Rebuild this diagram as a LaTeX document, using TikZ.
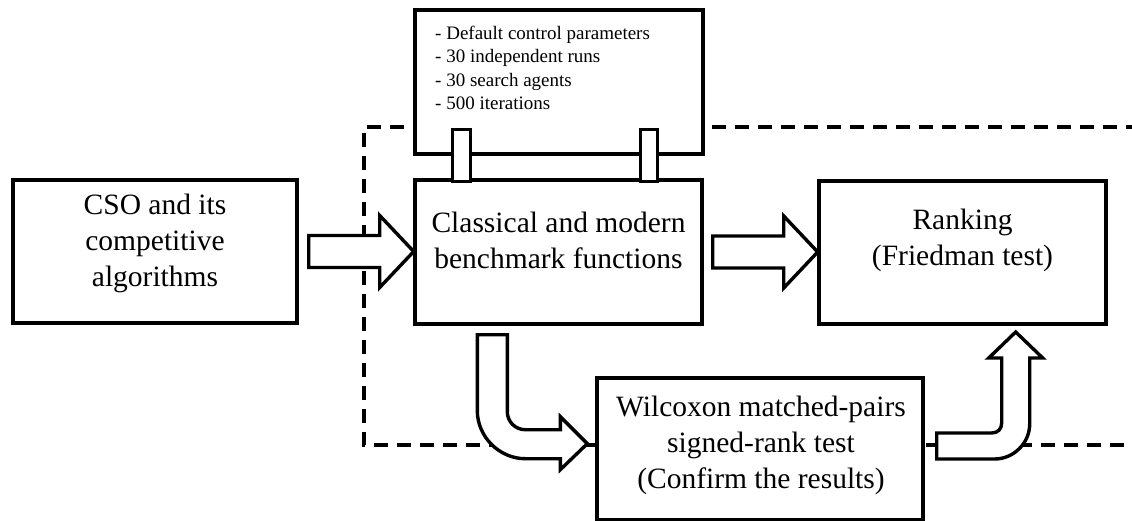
\documentclass[tikz,border=0pt]{standalone}
\usepackage{fontspec}
\setmainfont{Liberation Serif}
\tikzset{
  box/.style={draw, line width=3.4pt, fill=white, inner sep=0pt},
  boxtext/.style={align=center, inner sep=0pt, font=\fontsize{29.5}{36}\selectfont},
  fatline/.style={draw, line width=3.4pt, fill=white, line join=miter},
  frame/.style={line width=3.2pt, dash pattern=on 14pt off 9pt},
  fat arrow/.pic={\draw[fatline] (0,-16) -- (71,-16) -- (71,-36) -- (105,0) -- (71,36) -- (71,16) -- (0,16) -- cycle;}
}

\begin{document}
\begin{tikzpicture}[x=1pt,y=-1pt]
	\useasboundingbox (0,0) rectangle (1132,521);
	
	% dashed frame
	\draw[frame] (1140,127) -- (364,127) -- (364,445) -- (1140,445);
	
	% Boxes
	\node[box, minimum width=284pt, minimum height=143pt] (cso) at (155,251.5) {};
	\node[box, minimum width=287pt, minimum height=144pt] (bench) at (558.5,252) {};
	\node[box, minimum width=287pt, minimum height=143pt] (rank) at (962.5,252.5) {};
	\node[box, minimum width=326pt, minimum height=142pt] (wil) at (760,449) {};
	\node[box, minimum width=288pt, minimum height=144pt] (params) at (559,82) {};
	
	\node[boxtext] (cso-t) at (155,243) {CSO and its\\competitive\\algorithms};
	\node[boxtext] (bench-t) at (558.5,240) {Classical and modern\\benchmark functions};
	\node[boxtext] (rank-t) at (962.5,240) {Ranking\\(Friedman test)};
	\node[boxtext] (wil-t) at (761,445) {Wilcoxon matched-pairs\\signed-rank test\\(Confirm the results)};
	\node[anchor=west, align=left, inner sep=0pt, font=\fontsize{19}{23.3}\selectfont] (params-t) at (435,68)
		{- Default control parameters\\- 30 independent runs\\- 30 search agents\\- 500 iterations};
	
	% posts between parameters and benchmark
	\path (params.south west) ++(39,-26) coordinate (p1);
	\path (params.south west) ++(227,-26) coordinate (p2);
	\draw[fatline] (p1) rectangle ++(18,52);
	\draw[fatline] (p2) rectangle ++(17,52);
	
	% straight arrows
	\pic at ([xshift=10pt]cso.east) {fat arrow};
	\pic at ([xshift=9pt]bench.east) {fat arrow};
	
	% bent arrows
	\path (bench.south west) ++(64,9) coordinate (c1);
	\draw[fatline] (c1) -- ++(30,0) -- ++(0,77) .. controls +(0,10) and +(-10,0) .. ++(18,18)
		-- ++(35,0) -- ++(0,-13) -- ++(27,27) -- ++(-27,26) -- ++(0,-11) -- ++(-35,0)
		.. controls +(-26,0) and +(0,26) .. ++(-48,-48) -- cycle;
	
	\path (wil.east) ++(12,-16) coordinate (c2);
	\draw[fatline] (c2) -- ++(55,0) .. controls +(6,0) and +(0,6) .. ++(10,-10)
		-- ++(0,-65) -- ++(-13,0) -- ++(27,-26) -- ++(27,26) -- ++(-13,0) -- ++(0,66)
		.. controls +(0,19) and +(19,0) .. ++(-35,35) -- ++(-58,0) -- cycle;
\end{tikzpicture}
\end{document}
